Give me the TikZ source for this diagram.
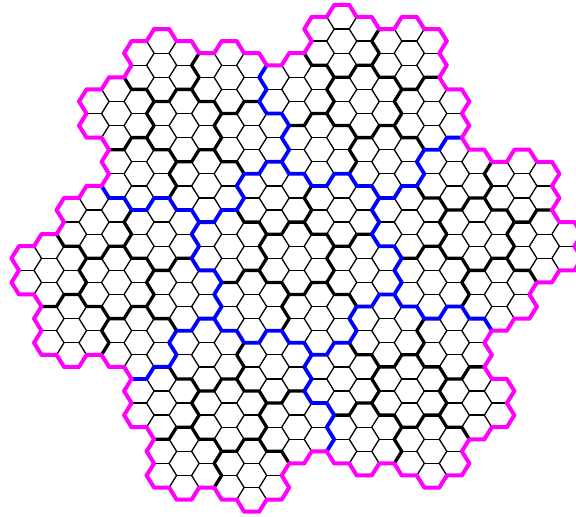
\documentclass[tikz,border=0pt]{standalone}
\definecolor{magline}{RGB}{255,0,255}
\definecolor{blueline}{RGB}{0,0,255}
\newcount\hA \newcount\hB \newcount\hR \newcount\hT
% unit vectors (digit 0..6) in the basis (1, eps)
\def\UA#1{\ifcase#1 0\or 1\or 0\or -1\or -1\or 0\or 1\fi}
\def\UB#1{\ifcase#1 0\or 0\or 1\or 1\or 0\or -1\or -1\fi}
% residue mod (2+eps) -> unit
\def\RA#1{\ifcase#1 0\or 1\or 0\or 1\or -1\or 0\or -1\fi}
\def\RB#1{\ifcase#1 0\or 0\or -1\or -1\or 1\or 1\or 0\fi}
\def\hexdiv{%
  \hR=\numexpr\hA-2*\hB\relax
  \hR=\numexpr\hR-7*(\hR/7)\relax
  \ifnum\hR<0 \advance\hR by 7 \fi
  \hA=\numexpr\hA-(\RA{\hR})\relax
  \hB=\numexpr\hB-(\RB{\hR})\relax
  \hT=\numexpr(3*\hA+\hB)/7\relax
  \hB=\numexpr(2*\hB-\hA)/7\relax
  \hA=\hT
}
\def\getaddr{%
  \hexdiv\edef\Aone{\the\hA,\the\hB}%
  \hexdiv\edef\Atwo{\the\hA,\the\hB}%
  \hexdiv\edef\Athree{\the\hA,\the\hB}%
}
\def\zeroaddr{0,0}
\gdef\blackpath{}\gdef\bluepath{}\gdef\magpath{}
\def\addseg#1{\xdef#1{\unexpanded\expandafter{#1} (\xa,\ya) -- (\xb,\yb)}}
\begin{document}
\begin{tikzpicture}[
  thinhex/.style={line width=1.3pt, black},
  blackhex/.style={line width=3.3pt, black, line cap=round},
  bluehex/.style={line width=3.8pt, blueline, line cap=round},
  maghex/.style={line width=4pt, magline, line cap=round}]
\useasboundingbox (0,0) rectangle (576pt,517pt);
\begin{scope}[shift={(296.7pt,258.7pt)}, x={(26pt,0pt)}, y={(0pt,24.13pt)}]
\foreach \dA in {0,...,6}{\foreach \dB in {0,...,6}{\foreach \dC in {0,...,6}{%
  \hA=\numexpr(\UA\dC)+2*(\UA\dB)-(\UB\dB)+3*(\UA\dA)-5*(\UB\dA)\relax
  \hB=\numexpr(\UB\dC)+(\UA\dB)+3*(\UB\dB)+5*(\UA\dA)+8*(\UB\dA)\relax
  \edef\za{\the\hA}\edef\zb{\the\hB}%
  \getaddr\let\Zone\Aone\let\Ztwo\Atwo
  \pgfmathsetmacro\hcx{\za*0.8660254}%
  \pgfmathsetmacro\hcy{0.5*\za+\zb}%
  \foreach \j in {1,...,6}{%
    \hA=\numexpr\za+(\UA\j)\relax
    \hB=\numexpr\zb+(\UB\j)\relax
    \getaddr
    \ifx\Athree\zeroaddr
      \ifx\Atwo\Ztwo
        \ifx\Aone\Zone\def\lev{0}\else\def\lev{1}\fi
      \else\def\lev{2}\fi
    \else\def\lev{3}\fi
    \ifnum\lev<3 \ifnum\j>3 \def\lev{9}\fi\fi
    \ifnum\lev<4
      \pgfmathsetmacro\xa{\hcx+0.57735*cos(60*\j-60)}%
      \pgfmathsetmacro\ya{\hcy+0.57735*sin(60*\j-60)}%
      \pgfmathsetmacro\xb{\hcx+0.57735*cos(60*\j)}%
      \pgfmathsetmacro\yb{\hcy+0.57735*sin(60*\j)}%
    \fi
    \ifcase\lev
      \draw[thinhex] (\xa,\ya) -- (\xb,\yb);
    \or
      \addseg\blackpath
    \or
      \addseg\bluepath
    \or
      \addseg\magpath
    \fi
  }%
}}}
\draw[blackhex] \blackpath;
\draw[bluehex] \bluepath;
\draw[maghex] \magpath;
\end{scope}
\end{tikzpicture}
\end{document}
